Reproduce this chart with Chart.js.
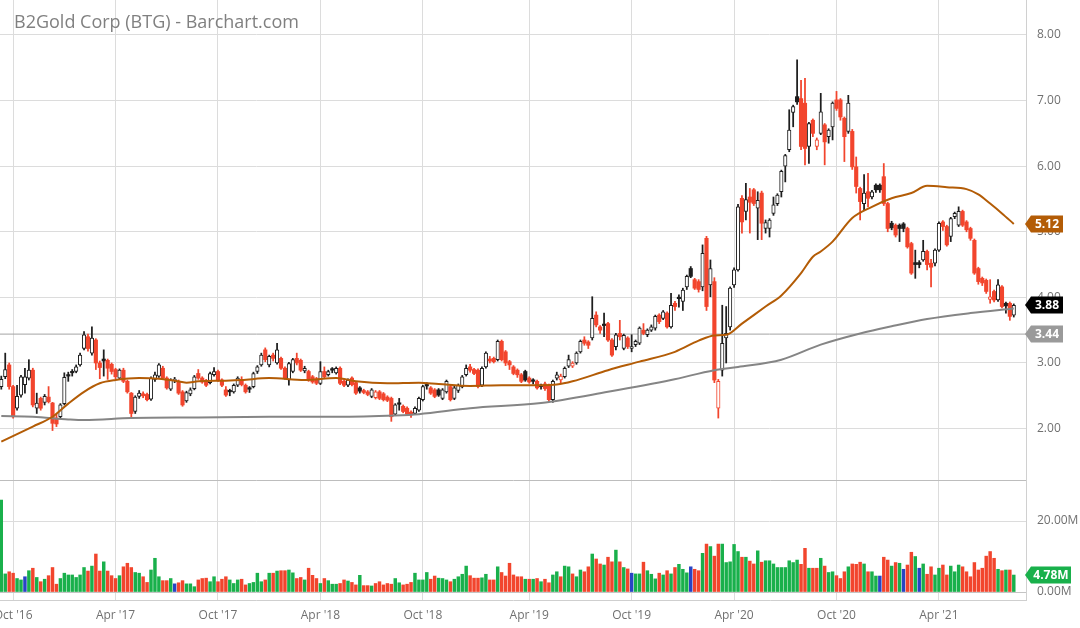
<!DOCTYPE html>
<html>
<head>
<meta charset="utf-8">
<script src="https://cdn.jsdelivr.net/npm/chart.js@4.4.0/dist/chart.umd.min.js"></script>
<style>
  html, body { margin: 0; padding: 0; background: #fff; }
  #wrap { position: relative; width: 1080px; height: 628px; overflow: hidden; }
  #price { position: absolute; left: 0; top: 0; }
  #volume { position: absolute; left: 0; top: 480px; }
  #title { position: absolute; left: 14px; top: 12px; font: 18px/18px "Open Sans", sans-serif; color: #808080; white-space: nowrap; }
</style>
</head>
<body>
<div id="wrap">
  <canvas id="price" width="1080" height="481"></canvas>
  <canvas id="volume" width="1080" height="148"></canvas>
  <div id="title">B2Gold Corp (BTG) - Barchart.com</div>
</div>
<script>
// weekly candles, Sep 2016 .. Sep 2021 (index = week number)
const openP = [
  2.64, 2.79, 2.97, 2.64, 2.31, 2.51, 2.67, 2.77, 2.89, 2.31,
  2.46, 2.40, 2.48, 2.39, 2.16, 2.18, 2.38, 2.82, 2.86, 2.87,
  2.97, 3.22, 3.40, 3.15, 3.35, 3.00, 3.06, 3.04, 2.98, 2.90,
  2.77, 2.89, 2.72, 2.54, 2.26, 2.49, 2.53, 2.52, 2.45, 2.75,
  2.80, 2.92, 2.77, 2.60, 2.73, 2.72, 2.56, 2.42, 2.53, 2.61,
  2.84, 2.77, 2.73, 2.70, 2.82, 2.87, 2.74, 2.59, 2.57, 2.56,
  2.66, 2.74, 2.66, 2.62, 2.64, 2.87, 2.97, 3.20, 2.97, 3.12,
  3.00, 3.07, 2.92, 2.74, 2.87, 3.07, 3.04, 2.88, 2.87, 2.79,
  2.76, 2.69, 2.87, 2.82, 2.90, 2.85, 2.92, 2.72, 2.66, 2.77,
  2.70, 2.62, 2.58, 2.56, 2.49, 2.47, 2.56, 2.53, 2.48, 2.46,
  2.22, 2.39, 2.34, 2.31, 2.25, 2.23, 2.28, 2.44, 2.67, 2.62,
  2.59, 2.59, 2.46, 2.56, 2.64, 2.46, 2.58, 2.64, 2.82, 2.94,
  2.90, 2.89, 2.66, 2.94, 3.06, 3.07, 3.05, 3.33, 3.17, 3.02,
  2.94, 2.89, 2.82, 2.87, 2.77, 2.73, 2.72, 2.65, 2.68, 2.66,
  2.44, 2.77, 2.74, 2.79, 2.95, 2.95, 3.00, 3.17, 3.35, 3.32,
  3.38, 3.73, 3.55, 3.59, 3.60, 3.35, 3.25, 3.45, 3.22, 3.38,
  3.22, 3.28, 3.30, 3.50, 3.43, 3.50, 3.53, 3.73, 3.68, 3.76,
  3.55, 3.91, 3.99, 3.94, 4.16, 4.44, 4.27, 4.24, 4.16, 4.90,
  4.19, 4.24, 2.31, 2.89, 3.38, 3.55, 4.19, 4.42, 5.51, 5.31,
  5.53, 5.64, 5.36, 5.59, 5.05, 5.05, 5.28, 5.43, 5.61, 6.00,
  6.25, 6.82, 7.06, 7.03, 6.96, 6.30, 6.70, 6.30, 6.50, 6.63,
  6.45, 6.60, 7.01, 7.01, 6.73, 6.53, 6.53, 5.99, 5.66, 5.43,
  5.61, 5.53, 5.71, 5.71, 5.84, 5.43, 5.13, 5.10, 5.10, 5.12,
  5.05, 4.82, 4.53, 4.53, 4.57, 4.70, 4.52, 4.52, 4.72, 5.15,
  5.08, 4.93, 5.23, 5.10, 5.31, 5.15, 5.05, 4.87, 4.44, 4.29,
  4.26, 3.97, 4.09, 3.96, 4.16, 3.91, 3.91, 3.73
];
const highP = [
  2.80, 3.15, 3.00, 2.66, 2.66, 2.81, 2.92, 3.05, 2.92, 2.54,
  2.48, 2.52, 2.64, 2.40, 2.22, 2.38, 2.85, 2.86, 2.90, 2.97,
  3.15, 3.48, 3.44, 3.55, 3.37, 3.03, 3.20, 3.06, 3.00, 2.92,
  2.91, 2.92, 2.74, 2.55, 2.50, 2.58, 2.56, 2.54, 2.79, 2.86,
  2.99, 2.95, 2.79, 2.76, 2.78, 2.74, 2.58, 2.57, 2.62, 2.81,
  2.90, 2.79, 2.75, 2.86, 2.93, 2.89, 2.76, 2.64, 2.60, 2.68,
  2.79, 2.79, 2.68, 2.64, 2.86, 2.96, 3.15, 3.23, 3.12, 3.15,
  3.30, 3.09, 2.94, 3.01, 3.07, 3.15, 3.06, 2.95, 2.89, 2.81,
  2.78, 3.02, 2.94, 2.89, 2.93, 2.94, 2.94, 2.74, 2.76, 2.79,
  2.72, 2.64, 2.60, 2.58, 2.61, 2.58, 2.58, 2.55, 2.50, 2.48,
  2.38, 2.46, 2.36, 2.33, 2.27, 2.33, 2.48, 2.66, 2.70, 2.64,
  2.61, 2.61, 2.61, 2.74, 2.66, 2.66, 2.68, 2.81, 2.97, 2.98,
  2.92, 2.91, 2.94, 3.17, 3.10, 3.09, 3.35, 3.35, 3.19, 3.04,
  2.96, 2.91, 2.84, 2.89, 2.79, 2.76, 2.74, 2.68, 2.71, 2.68,
  2.74, 2.86, 2.83, 2.94, 3.12, 3.02, 3.17, 3.35, 3.40, 3.34,
  4.01, 3.78, 3.57, 3.76, 3.62, 3.37, 3.45, 3.65, 3.44, 3.40,
  3.43, 3.35, 3.55, 3.60, 3.52, 3.58, 3.73, 3.75, 3.80, 3.78,
  4.06, 3.94, 4.04, 4.14, 4.34, 4.47, 4.29, 4.27, 4.80, 4.93,
  4.57, 4.30, 2.75, 3.88, 3.86, 4.16, 4.45, 5.42, 5.55, 5.74,
  5.66, 5.66, 5.61, 5.62, 5.18, 5.20, 5.53, 5.58, 5.94, 6.18,
  6.86, 6.93, 7.62, 7.31, 7.34, 6.67, 6.72, 6.43, 7.11, 6.65,
  6.57, 6.98, 7.14, 7.03, 6.75, 7.08, 6.56, 6.14, 5.68, 5.87,
  5.89, 5.63, 5.73, 5.73, 6.04, 5.45, 5.16, 5.12, 5.12, 5.14,
  5.07, 4.84, 4.72, 4.56, 4.87, 4.72, 4.58, 4.74, 5.15, 5.17,
  5.10, 5.22, 5.30, 5.38, 5.33, 5.17, 5.07, 4.89, 4.46, 4.31,
  4.28, 4.27, 4.11, 4.27, 4.18, 3.93, 3.93, 3.90
];
const lowP = [
  2.60, 2.76, 2.60, 2.16, 2.28, 2.48, 2.54, 2.74, 2.33, 2.23,
  2.28, 2.36, 2.39, 1.97, 2.03, 2.15, 2.36, 2.72, 2.80, 2.85,
  2.95, 3.20, 3.18, 3.12, 2.90, 2.76, 2.80, 2.75, 2.83, 2.76,
  2.75, 2.70, 2.54, 2.16, 2.23, 2.46, 2.47, 2.42, 2.43, 2.72,
  2.78, 2.75, 2.60, 2.58, 2.70, 2.52, 2.34, 2.40, 2.50, 2.59,
  2.75, 2.69, 2.64, 2.68, 2.80, 2.72, 2.64, 2.49, 2.50, 2.54,
  2.64, 2.65, 2.54, 2.55, 2.62, 2.84, 2.95, 3.02, 2.94, 3.03,
  2.98, 2.90, 2.75, 2.66, 2.85, 2.97, 2.87, 2.85, 2.72, 2.69,
  2.67, 2.67, 2.77, 2.80, 2.85, 2.83, 2.67, 2.64, 2.64, 2.65,
  2.52, 2.54, 2.53, 2.50, 2.47, 2.45, 2.44, 2.42, 2.41, 2.11,
  2.20, 2.28, 2.24, 2.20, 2.17, 2.21, 2.26, 2.42, 2.60, 2.52,
  2.47, 2.49, 2.44, 2.54, 2.42, 2.44, 2.55, 2.62, 2.80, 2.86,
  2.82, 2.62, 2.64, 2.92, 3.00, 3.00, 3.03, 3.03, 2.96, 2.90,
  2.82, 2.78, 2.70, 2.72, 2.69, 2.68, 2.60, 2.60, 2.58, 2.41,
  2.40, 2.74, 2.70, 2.77, 2.93, 2.93, 2.98, 3.15, 3.27, 3.22,
  3.35, 3.55, 3.45, 3.40, 3.33, 3.10, 3.20, 3.35, 3.20, 3.22,
  3.17, 3.25, 3.28, 3.43, 3.40, 3.48, 3.50, 3.60, 3.66, 3.53,
  3.53, 3.80, 3.85, 3.80, 4.12, 4.30, 4.12, 4.08, 4.10, 3.80,
  4.01, 2.70, 2.16, 2.80, 3.00, 3.50, 4.15, 4.40, 4.98, 5.18,
  4.98, 5.40, 4.88, 4.88, 4.98, 4.92, 5.25, 5.40, 5.53, 5.76,
  6.22, 6.60, 6.94, 6.25, 6.02, 6.04, 6.45, 6.25, 6.48, 6.02,
  6.35, 6.40, 6.85, 6.70, 6.07, 6.50, 5.95, 5.59, 5.18, 5.33,
  5.38, 5.50, 5.60, 5.60, 5.40, 5.00, 5.03, 4.92, 4.85, 5.00,
  4.75, 4.35, 4.29, 4.45, 4.55, 4.42, 4.16, 4.48, 4.70, 5.02,
  4.78, 4.85, 5.20, 5.08, 5.08, 5.00, 4.87, 4.35, 4.20, 4.18,
  4.06, 3.91, 3.93, 3.94, 3.84, 3.76, 3.65, 3.70
];
const closeP = [
  2.75, 2.90, 2.64, 2.18, 2.49, 2.79, 2.79, 2.89, 2.36, 2.39,
  2.31, 2.49, 2.41, 2.08, 2.07, 2.36, 2.78, 2.80, 2.85, 2.94,
  3.12, 3.43, 3.22, 3.38, 3.00, 2.93, 3.03, 2.92, 2.87, 2.79,
  2.89, 2.72, 2.56, 2.23, 2.48, 2.54, 2.50, 2.44, 2.77, 2.82,
  2.97, 2.77, 2.62, 2.74, 2.74, 2.54, 2.36, 2.55, 2.59, 2.79,
  2.77, 2.71, 2.66, 2.84, 2.87, 2.74, 2.66, 2.51, 2.56, 2.66,
  2.77, 2.67, 2.56, 2.60, 2.84, 2.94, 3.12, 3.05, 3.10, 3.07,
  3.20, 2.92, 2.77, 2.99, 3.05, 3.00, 2.89, 2.92, 2.74, 2.71,
  2.69, 2.87, 2.79, 2.87, 2.89, 2.92, 2.69, 2.66, 2.74, 2.67,
  2.54, 2.57, 2.55, 2.52, 2.59, 2.56, 2.46, 2.44, 2.43, 2.18,
  2.36, 2.37, 2.26, 2.22, 2.21, 2.31, 2.46, 2.64, 2.65, 2.54,
  2.49, 2.51, 2.59, 2.72, 2.44, 2.62, 2.66, 2.79, 2.92, 2.89,
  2.84, 2.64, 2.92, 3.15, 3.03, 3.02, 3.33, 3.05, 3.00, 2.97,
  2.84, 2.82, 2.72, 2.74, 2.71, 2.72, 2.62, 2.64, 2.61, 2.44,
  2.72, 2.82, 2.80, 2.92, 3.05, 3.00, 3.15, 3.33, 3.30, 3.27,
  3.68, 3.58, 3.50, 3.57, 3.35, 3.12, 3.43, 3.40, 3.42, 3.25,
  3.25, 3.33, 3.53, 3.45, 3.50, 3.55, 3.71, 3.63, 3.78, 3.55,
  3.88, 3.86, 3.98, 4.11, 4.32, 4.32, 4.14, 4.12, 4.67, 3.86,
  4.44, 2.74, 2.72, 3.30, 3.45, 4.14, 4.42, 5.38, 5.15, 5.49,
  5.45, 5.43, 5.48, 5.13, 5.14, 5.18, 5.41, 5.56, 5.92, 6.16,
  6.55, 6.91, 6.98, 6.30, 6.27, 6.65, 6.50, 6.40, 6.83, 6.37,
  6.55, 6.96, 6.88, 6.75, 6.45, 6.96, 5.99, 5.69, 5.46, 5.59,
  5.51, 5.61, 5.64, 5.64, 5.43, 5.05, 5.06, 4.95, 5.05, 5.05,
  4.77, 4.37, 4.50, 4.50, 4.70, 4.50, 4.46, 4.72, 5.13, 5.08,
  4.80, 5.20, 5.28, 5.31, 5.10, 5.03, 4.90, 4.37, 4.24, 4.22,
  4.09, 4.01, 3.96, 4.19, 3.86, 3.87, 3.71, 3.88
];
// weekly volume, millions of shares
const volumeM = [
  25.9, 5.1, 5.7, 5.3, 3.8, 3.4, 4.3, 6.0, 6.7, 4.1,
  2.9, 3.6, 4.6, 6.9, 2.2, 3.8, 5.3, 4.8, 4.8, 4.1,
  4.8, 6.9, 5.9, 7.3, 10.7, 5.9, 8.5, 5.9, 4.6, 3.8,
  4.6, 7.1, 8.1, 6.9, 5.5, 5.3, 4.3, 2.7, 6.2, 9.5,
  4.3, 3.2, 3.2, 3.8, 2.3, 2.6, 3.2, 2.3, 2.3, 1.5,
  3.4, 3.8, 3.9, 2.9, 4.3, 2.9, 3.6, 4.3, 3.4, 2.4,
  3.4, 3.6, 2.0, 2.4, 2.7, 5.3, 2.9, 3.4, 5.3, 5.3,
  5.9, 6.0, 6.0, 6.2, 5.4, 3.8, 4.1, 3.4, 6.7, 4.7,
  3.8, 2.4, 3.8, 3.2, 2.2, 2.2, 2.4, 3.4, 3.1, 2.7,
  2.0, 4.7, 1.8, 1.8, 1.7, 2.4, 2.9, 2.0, 2.4, 2.2,
  3.8, 2.6, 2.0, 2.2, 2.7, 5.3, 3.4, 3.4, 5.5, 3.6,
  4.5, 3.9, 3.8, 3.4, 2.9, 3.6, 4.3, 5.0, 7.3, 4.6,
  3.9, 3.9, 4.0, 5.0, 3.4, 3.4, 7.1, 5.5, 4.5, 8.1,
  4.8, 4.3, 4.3, 3.6, 3.6, 3.6, 3.8, 2.9, 3.6, 2.6,
  4.8, 5.7, 4.3, 7.3, 7.1, 5.1, 4.3, 6.2, 5.7, 7.1,
  10.7, 9.3, 7.9, 7.6, 9.8, 8.5, 11.8, 8.5, 6.9, 6.5,
  5.3, 5.1, 5.1, 8.4, 6.0, 5.0, 3.7, 5.3, 4.8, 6.0,
  5.1, 6.9, 7.8, 6.4, 5.4, 7.1, 6.4, 6.0, 10.9, 13.5,
  12.8, 10.1, 13.5, 13.5, 8.3, 8.5, 13.4, 11.4, 9.8, 9.8,
  8.7, 7.9, 11.6, 8.4, 8.8, 8.8, 7.9, 6.9, 6.9, 6.9,
  8.8, 8.3, 9.0, 7.8, 12.3, 6.7, 6.7, 6.7, 9.5, 7.3,
  5.5, 5.7, 4.6, 3.8, 5.7, 7.1, 7.9, 7.8, 8.4, 7.9,
  5.7, 5.7, 4.5, 4.5, 9.8, 9.0, 7.3, 8.3, 8.1, 6.4,
  7.6, 11.2, 10.0, 6.7, 7.9, 5.0, 7.1, 4.8, 6.7, 7.6,
  4.8, 7.3, 5.7, 7.6, 7.1, 5.7, 4.3, 8.3, 6.2, 6.7,
  10.1, 11.4, 9.5, 6.4, 6.0, 6.2, 6.2, 4.78
];
// moving averages (week -> value)
const ma50Weeks = [0, 8, 13, 17, 21, 25, 29, 35, 40, 44, 47, 50, 57, 61, 68, 77, 85, 90, 98, 106,
  111, 119, 127, 137, 141, 145, 154, 162, 171, 177, 181, 184, 188, 194, 198, 203, 206, 208, 211, 216,
  221, 226, 231, 235, 240, 245, 248, 251, 254, 257];
const ma50 = [1.80, 2.03, 2.18, 2.38, 2.56, 2.69, 2.74, 2.77, 2.76, 2.73, 2.70, 2.72, 2.73, 2.74, 2.77, 2.74, 2.77, 2.72, 2.69, 2.70,
  2.68, 2.65, 2.66, 2.66, 2.67, 2.72, 2.89, 3.02, 3.17, 3.34, 3.42, 3.43, 3.60, 3.86, 4.03, 4.37, 4.62, 4.70, 4.85, 5.21,
  5.38, 5.51, 5.59, 5.70, 5.68, 5.65, 5.57, 5.43, 5.28, 5.12];
const ma200Weeks = [0, 8, 17, 21, 33, 50, 68, 85, 100, 106, 119, 137, 154, 170, 181, 187, 198, 208, 218, 226, 235, 246, 257];
const ma200 = [2.19, 2.18, 2.14, 2.13, 2.16, 2.17, 2.18, 2.18, 2.20, 2.22, 2.31, 2.39, 2.56, 2.74, 2.89, 2.94, 3.05, 3.28, 3.45, 3.56, 3.67, 3.76, 3.83];
const refLevel = 3.44;

const tickWeeks = [3, 29, 55, 81, 107, 134, 160, 186, 212, 238];
const tickLabels = ["Oct '16", "Apr '17", "Oct '17", "Apr '18", "Oct '18", "Apr '19", "Oct '19", "Apr '20", "Oct '20", "Apr '21"];
const priceTicks = [2, 3, 4, 5, 6, 7, 8];
const volumeTicks = [0, 20];

// shared horizontal range (one unit = one week)
const xMin = -0.33, xMax = 260.1;

const RED = '#f2452d', BLACK = '#1e1e1e', GREEN = '#19b04b', BLUE = '#2844c4';
const BROWN = '#b35c06', GRAY = '#858585', GRID = '#dcdcdc', TXT = '#707070';
const FONT = { family: '"Open Sans", sans-serif', size: 12 };

Chart.defaults.font.family = FONT.family;

// up / down / unchanged vs the previous close
const dir = closeP.map((c, i) => {
  const prev = i === 0 ? openP[0] : closeP[i - 1];
  return c > prev ? 1 : (c < prev ? -1 : 0);
});
const candleColor = dir.map(d => d < 0 ? RED : BLACK);
const hollow = closeP.map((c, i) => c > openP[i]);
const volColor = dir.map(d => d > 0 ? GREEN : (d < 0 ? RED : BLUE));

function fixWidth(w) {
  return s => { s.width = w; s.paddingTop = 0; s.paddingBottom = 0; };
}
function fixHeight(h) {
  return s => { s.height = h; s.paddingLeft = 0; s.paddingRight = 0; };
}

function tagPlugin(id, tags) {
  return {
    id: id,
    afterDraw(chart) {
      const ctx = chart.ctx, y = chart.scales.y, left = chart.chartArea.right - 1;
      tags.forEach(t => {
        const py = Math.round(y.getPixelForValue(t.value));
        const h = 17, right = left + t.w;
        ctx.save();
        ctx.beginPath();
        ctx.moveTo(left, py);
        ctx.lineTo(left + 6, py - h / 2);
        ctx.lineTo(right, py - h / 2);
        ctx.lineTo(right, py + h / 2);
        ctx.lineTo(left + 6, py + h / 2);
        ctx.closePath();
        ctx.fillStyle = t.color;
        ctx.fill();
        ctx.fillStyle = '#fff';
        ctx.font = 'bold 12px "Open Sans", sans-serif';
        ctx.textAlign = 'center';
        ctx.textBaseline = 'middle';
        ctx.fillText(t.text, (left + 6 + right) / 2, py + 1);
        ctx.restore();
      });
    }
  };
}

const lastClose = closeP[closeP.length - 1];
const lastMa50 = ma50[ma50.length - 1];
const lastVol = volumeM[volumeM.length - 1];

// ---------- price panel ----------
new Chart(document.getElementById('price'), {
  type: 'bar',
  data: {
    datasets: [
      {
        type: 'line',
        data: ma50Weeks.map((w, k) => ({ x: w, y: ma50[k] })),
        borderColor: BROWN, borderWidth: 2, pointRadius: 0,
        cubicInterpolationMode: 'monotone', order: 0
      },
      {
        type: 'line',
        data: ma200Weeks.map((w, k) => ({ x: w, y: ma200[k] })),
        borderColor: GRAY, borderWidth: 2, pointRadius: 0,
        cubicInterpolationMode: 'monotone', order: 0
      },
      {
        data: closeP.map((c, i) => ({ x: i, y: [Math.min(openP[i], c), Math.max(openP[i], c)] })),
        backgroundColor: hollow.map((h, i) => h ? '#ffffff' : candleColor[i]),
        borderColor: candleColor,
        borderWidth: hollow.map(h => h ? 1 : 0),
        borderSkipped: false,
        barThickness: 3.5, minBarLength: 1.5, grouped: false, order: 1
      },
      {
        data: closeP.map((c, i) => ({ x: i, y: [lowP[i], highP[i]] })),
        backgroundColor: candleColor,
        barThickness: 1.1, grouped: false, order: 2
      },
      {
        type: 'line',
        data: [{ x: xMin, y: refLevel }, { x: xMax, y: refLevel }],
        borderColor: '#a3a3a3', borderWidth: 1, pointRadius: 0, order: 3
      }
    ]
  },
  options: {
    responsive: false, animation: false, devicePixelRatio: 1,
    layout: { padding: { top: 0, left: 0, right: 0, bottom: 1 } },
    plugins: { legend: { display: false }, tooltip: { enabled: false } },
    scales: {
      x: {
        type: 'linear', min: xMin, max: xMax, offset: false,
        afterBuildTicks: s => { s.ticks = tickWeeks.map(v => ({ value: v })); },
        afterFit: fixHeight(0),
        ticks: { display: false },
        grid: { color: GRID, drawTicks: false, offset: false },
        border: { display: true, color: '#bdbdbd' }
      },
      y: {
        type: 'linear', position: 'right', min: 1.216, max: 8.533,
        afterBuildTicks: s => { s.ticks = priceTicks.map(v => ({ value: v })); },
        afterFit: fixWidth(54),
        ticks: { color: TXT, font: FONT, padding: 11, callback: v => v.toFixed(2) },
        grid: { color: GRID, drawTicks: false },
        border: { display: true, color: '#d0d0d0' }
      }
    }
  },
  plugins: [tagPlugin('priceTags', [
    { value: lastMa50, color: BROWN, text: lastMa50.toFixed(2), w: 38 },
    { value: refLevel, color: '#9a9a9a', text: refLevel.toFixed(2), w: 38 },
    { value: lastClose, color: '#000000', text: lastClose.toFixed(2), w: 38 }
  ])]
});

// ---------- volume panel ----------
new Chart(document.getElementById('volume'), {
  type: 'bar',
  data: {
    datasets: [{
      data: volumeM.map((v, i) => ({ x: i, y: v })),
      backgroundColor: volColor,
      barThickness: 2.8, grouped: false
    }]
  },
  options: {
    responsive: false, animation: false, devicePixelRatio: 1,
    layout: { padding: { top: 1, left: 0, right: 0, bottom: 0 } },
    plugins: { legend: { display: false }, tooltip: { enabled: false } },
    scales: {
      x: {
        type: 'linear', min: xMin, max: xMax, offset: false,
        afterBuildTicks: s => { s.ticks = tickWeeks.map(v => ({ value: v })); },
        afterFit: fixHeight(28),
        ticks: {
          color: TXT, font: FONT, padding: 8, maxRotation: 0, autoSkip: false,
          callback: v => tickLabels[tickWeeks.indexOf(v)]
        },
        grid: { color: GRID, drawTicks: false, offset: false },
        border: { display: true, color: '#cfcfcf' }
      },
      y: {
        type: 'linear', position: 'right', min: -2.25, max: 31.27,
        afterBuildTicks: s => { s.ticks = volumeTicks.map(v => ({ value: v })); },
        afterFit: fixWidth(54),
        ticks: { color: TXT, font: FONT, padding: 11, callback: v => v.toFixed(2) + 'M' },
        grid: { color: c => c.tick && c.tick.value === 0 ? '#c4c4c4' : GRID, drawTicks: false },
        border: { display: true, color: '#d0d0d0' }
      }
    }
  },
  plugins: [tagPlugin('volTag', [
    { value: lastVol, color: dir[dir.length - 1] < 0 ? RED : GREEN, text: lastVol.toFixed(2) + 'M', w: 46 }
  ])]
});
</script>
</body>
</html>
